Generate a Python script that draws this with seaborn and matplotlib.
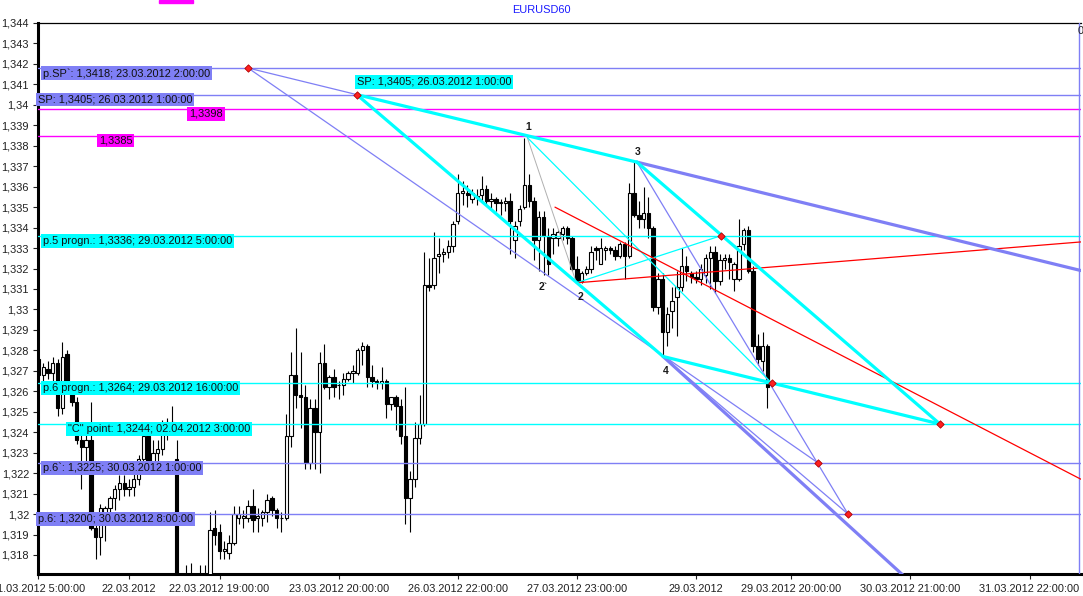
import numpy as np
import pandas as pd
import seaborn as sns
import matplotlib.pyplot as plt
from matplotlib.patches import Rectangle
from matplotlib.ticker import MultipleLocator, FixedLocator, FuncFormatter

# --- 1. Data (EURUSD H1 bars) ---
opens = [1.3276, 1.3268, 1.3271, 1.3269, 1.3274, 1.3252, 1.3278, 1.3261, 1.3255, 1.3236,
         1.3233, 1.3236, 1.3193, 1.3189, 1.3198, 1.3203, 1.3208, 1.3212, 1.3215, 1.3212,
         1.3213, 1.3217, 1.3227, 1.3238, 1.3225, 1.3230, 1.3232, 1.3241, 1.3245, 1.3227,
         1.3163, 1.3158, 1.3155, 1.3160, 1.3162, 1.3165, 1.3170, 1.3193, 1.3191, 1.3182,
         1.3181, 1.3186, 1.3198, 1.3198, 1.3198, 1.3204, 1.3198, 1.3198, 1.3201, 1.3208,
         1.3202, 1.3198, 1.3198, 1.3238, 1.3268, 1.3258, 1.3257, 1.3225, 1.3252, 1.3240,
         1.3274, 1.3262, 1.3267, 1.3263, 1.3263, 1.3266, 1.3269, 1.3269, 1.3280, 1.3282,
         1.3267, 1.3265, 1.3264, 1.3265, 1.3254, 1.3257, 1.3253, 1.3238, 1.3208, 1.3217,
         1.3237, 1.3244, 1.3312, 1.3312, 1.3326, 1.3327, 1.3328, 1.3331, 1.3343, 1.3357,
         1.3357, 1.3354, 1.3355, 1.3356, 1.3359, 1.3353, 1.3354, 1.3352, 1.3352, 1.3353,
         1.3334, 1.3343, 1.3350, 1.3361, 1.3353, 1.3334, 1.3345, 1.3336, 1.3335, 1.3335,
         1.3337, 1.3340, 1.3335, 1.3320, 1.3314, 1.3318, 1.3320, 1.3330, 1.3322, 1.3329,
         1.3330, 1.3329, 1.3326, 1.3332, 1.3326, 1.3357, 1.3346, 1.3344, 1.3347, 1.3340,
         1.3301, 1.3315, 1.3289, 1.3299, 1.3306, 1.3311, 1.3321, 1.3318, 1.3316, 1.3315,
         1.3317, 1.3325, 1.3328, 1.3314, 1.3324, 1.3325, 1.3315, 1.3315, 1.3332, 1.3339,
         1.3319, 1.3282, 1.3275, 1.3282]
highs = [1.3279, 1.3274, 1.3275, 1.3277, 1.3276, 1.3284, 1.3280, 1.3265, 1.3257, 1.3243,
         1.3240, 1.3255, 1.3197, 1.3205, 1.3204, 1.3209, 1.3214, 1.3219, 1.3219, 1.3217,
         1.3221, 1.3229, 1.3243, 1.3243, 1.3236, 1.3236, 1.3246, 1.3247, 1.3253, 1.3236,
         1.3168, 1.3175, 1.3176, 1.3166, 1.3175, 1.3175, 1.3201, 1.3202, 1.3195, 1.3187,
         1.3190, 1.3204, 1.3204, 1.3202, 1.3207, 1.3212, 1.3203, 1.3202, 1.3210, 1.3209,
         1.3203, 1.3201, 1.3249, 1.3279, 1.3291, 1.3279, 1.3263, 1.3256, 1.3256, 1.3279,
         1.3283, 1.3268, 1.3271, 1.3265, 1.3269, 1.3270, 1.3273, 1.3281, 1.3284, 1.3283,
         1.3273, 1.3266, 1.3272, 1.3266, 1.3257, 1.3258, 1.3256, 1.3262, 1.3221, 1.3245,
         1.3258, 1.3328, 1.3325, 1.3338, 1.3335, 1.3330, 1.3334, 1.3343, 1.3366, 1.3363,
         1.3361, 1.3359, 1.3359, 1.3365, 1.3361, 1.3357, 1.3355, 1.3354, 1.3355, 1.3357,
         1.3343, 1.3351, 1.3384, 1.3366, 1.3355, 1.3348, 1.3348, 1.3340, 1.3340, 1.3339,
         1.3341, 1.3341, 1.3336, 1.3326, 1.3319, 1.3321, 1.3331, 1.3331, 1.3335, 1.3331,
         1.3331, 1.3331, 1.3333, 1.3333, 1.3362, 1.3372, 1.3353, 1.3360, 1.3355, 1.3341,
         1.3318, 1.3318, 1.3301, 1.3311, 1.3319, 1.3330, 1.3326, 1.3319, 1.3319, 1.3322,
         1.3327, 1.3331, 1.3331, 1.3327, 1.3327, 1.3327, 1.3323, 1.3344, 1.3340, 1.3341,
         1.3321, 1.3288, 1.3289, 1.3283]
lows = [1.3265, 1.3265, 1.3266, 1.3265, 1.3248, 1.3249, 1.3263, 1.3253, 1.3234, 1.3212,
        1.3221, 1.3192, 1.3178, 1.3180, 1.3187, 1.3199, 1.3202, 1.3207, 1.3209, 1.3209,
        1.3209, 1.3214, 1.3225, 1.3221, 1.3222, 1.3225, 1.3229, 1.3236, 1.3240, 1.3158,
        1.3150, 1.3148, 1.3150, 1.3150, 1.3152, 1.3155, 1.3165, 1.3185, 1.3178, 1.3178,
        1.3178, 1.3185, 1.3195, 1.3193, 1.3196, 1.3191, 1.3191, 1.3194, 1.3196, 1.3199,
        1.3193, 1.3191, 1.3197, 1.3233, 1.3252, 1.3242, 1.3222, 1.3222, 1.3222, 1.3220,
        1.3261, 1.3256, 1.3257, 1.3256, 1.3258, 1.3265, 1.3264, 1.3268, 1.3273, 1.3262,
        1.3262, 1.3261, 1.3261, 1.3247, 1.3251, 1.3241, 1.3234, 1.3195, 1.3191, 1.3213,
        1.3234, 1.3243, 1.3309, 1.3310, 1.3318, 1.3323, 1.3325, 1.3328, 1.3342, 1.3351,
        1.3350, 1.3352, 1.3351, 1.3353, 1.3351, 1.3349, 1.3348, 1.3346, 1.3348, 1.3327,
        1.3325, 1.3341, 1.3349, 1.3350, 1.3324, 1.3319, 1.3317, 1.3317, 1.3327, 1.3331,
        1.3334, 1.3332, 1.3319, 1.3313, 1.3313, 1.3317, 1.3318, 1.3324, 1.3322, 1.3324,
        1.3327, 1.3324, 1.3325, 1.3315, 1.3325, 1.3345, 1.3340, 1.3340, 1.3335, 1.3299,
        1.3298, 1.3277, 1.3282, 1.3291, 1.3287, 1.3309, 1.3314, 1.3313, 1.3313, 1.3312,
        1.3313, 1.3310, 1.3308, 1.3312, 1.3320, 1.3315, 1.3309, 1.3314, 1.3329, 1.3318,
        1.3279, 1.3273, 1.3270, 1.3252]
closes = [1.3268, 1.3272, 1.3269, 1.3274, 1.3252, 1.3277, 1.3265, 1.3255, 1.3236, 1.3233,
          1.3236, 1.3193, 1.3189, 1.3203, 1.3203, 1.3208, 1.3212, 1.3215, 1.3212, 1.3213,
          1.3217, 1.3227, 1.3238, 1.3225, 1.3230, 1.3232, 1.3241, 1.3245, 1.3242, 1.3163,
          1.3158, 1.3155, 1.3160, 1.3162, 1.3165, 1.3168, 1.3192, 1.3190, 1.3182, 1.3183,
          1.3186, 1.3200, 1.3200, 1.3199, 1.3204, 1.3197, 1.3199, 1.3201, 1.3207, 1.3202,
          1.3198, 1.3198, 1.3238, 1.3268, 1.3258, 1.3257, 1.3225, 1.3252, 1.3240, 1.3274,
          1.3262, 1.3267, 1.3262, 1.3263, 1.3266, 1.3269, 1.3270, 1.3280, 1.3282, 1.3267,
          1.3265, 1.3264, 1.3265, 1.3254, 1.3257, 1.3253, 1.3238, 1.3208, 1.3217, 1.3237,
          1.3244, 1.3312, 1.3311, 1.3325, 1.3327, 1.3328, 1.3331, 1.3342, 1.3357, 1.3358,
          1.3356, 1.3357, 1.3355, 1.3359, 1.3353, 1.3354, 1.3352, 1.3352, 1.3353, 1.3343,
          1.3341, 1.3349, 1.3361, 1.3353, 1.3334, 1.3345, 1.3336, 1.3322, 1.3337, 1.3338,
          1.3340, 1.3335, 1.3320, 1.3314, 1.3318, 1.3320, 1.3328, 1.3329, 1.3330, 1.3330,
          1.3329, 1.3326, 1.3332, 1.3326, 1.3357, 1.3346, 1.3344, 1.3347, 1.3340, 1.3301,
          1.3315, 1.3289, 1.3298, 1.3304, 1.3311, 1.3321, 1.3319, 1.3316, 1.3315, 1.3320,
          1.3325, 1.3328, 1.3314, 1.3324, 1.3325, 1.3323, 1.3322, 1.3331, 1.3339, 1.3319,
          1.3282, 1.3276, 1.3282, 1.3262]

# x axis labels (bar index of each labelled hour)
tick_pos = [0, 19, 38, 63, 88, 113, 138, 158, 183, 208]
tick_labels = ["21.03.2012 5:00:00", "22.03.2012", "22.03.2012 19:00:00", "23.03.2012 20:00:00",
               "26.03.2012 22:00:00", "27.03.2012 23:00:00", "29.03.2012", "29.03.2012 20:00:00",
               "30.03.2012 21:00:00", "31.03.2012 22:00:00"]

# pattern points (bar index, price)
pt_x = {"pSP": 44.0, "SP": 66.8, "p1": 102.6, "p2": 112.9, "p3": 125.6, "p4": 131.1,
        "p5": 143.2, "p6prog": 153.9, "p6b": 163.6, "p6": 169.9, "C": 189.2,
        "blue_top": 218.8, "blue_bot": 181.5, "red_a": 108.4, "red_a_end": 218.8, "red_b_end": 218.8}
pt_y = {"pSP": 1.3418, "SP": 1.3405, "p1": 1.3384, "p2": 1.3313, "p3": 1.3372, "p4": 1.3277,
        "p5": 1.3336, "p6prog": 1.3264, "p6b": 1.3225, "p6": 1.3200, "C": 1.3244,
        "blue_top": 1.3319, "blue_bot": 1.3170, "red_a": 1.3350, "red_a_end": 1.3217, "red_b_end": 1.3333}
red_dots = ["pSP", "SP", "p5", "p6prog", "p6b", "p6", "C"]

# horizontal levels and their captions
level_price = [1.3418, 1.3405, 1.3398, 1.3385, 1.3336, 1.3264, 1.3244, 1.3225, 1.3200]
level_kind = ["blue", "blue", "mag", "mag", "cyan", "cyan", "cyan", "blue", "blue"]
level_text = ["p.SP`: 1,3418; 23.03.2012 2:00:00", "SP: 1,3405; 26.03.2012 1:00:00", "1,3398", "1,3385",
              "p.5 progn.: 1,3336; 29.03.2012 5:00:00", "p.6 progn.: 1,3264; 29.03.2012 16:00:00",
              "\"C\" point: 1,3244; 02.04.2012 3:00:00", "p.6`: 1,3225; 30.03.2012 1:00:00",
              "p.6: 1,3200; 30.03.2012 8:00:00"]
level_text_x = [0.95, -0.1, 31.6, 12.7, 0.95, 0.95, 6.2, 0.95, -0.1]

# wave numbers
wave_text = ["1", "2`", "2", "3", "4"]
wave_x = [102.7, 105.9, 113.7, 125.7, 131.6]
wave_y = [1.3389, 1.3311, 1.3306, 1.3377, 1.3270]

# --- 2. Styling ---
sns.set_style("white")
plt.rcParams["font.family"] = ["Liberation Sans", "DejaVu Sans"]
BLUE = "#7f7ff5"
CYAN = "#00ffff"
MAG = "#ff00ff"
RED = "#ff0000"
colors = {"blue": BLUE, "cyan": CYAN, "mag": MAG}
FS = 7.9

fig = plt.figure(figsize=(10.83, 5.96), dpi=100)
ax = fig.add_axes([38 / 1083, 22 / 596, 1043 / 1083, 551 / 596])

# --- 3. Candles ---
n = len(opens)
x = np.arange(n)
o = np.array(opens)
c = np.array(closes)
ax.vlines(x, lows, highs, color="black", lw=0.8, zorder=2)
body_low = np.minimum(o, c)
body_h = np.maximum(np.abs(c - o), 0.00003)
face = np.where(c >= o, "white", "black")
ax.bar(x, body_h, bottom=body_low, width=0.72, color=face, edgecolor="black",
       linewidth=0.8, zorder=3)

# --- 4. Levels, trend lines, points ---
for p, k in zip(level_price, level_kind):
    ax.axhline(p, color=colors[k], lw=1.0, zorder=4)

def seg(a, b, color, lw):
    sns.lineplot(x=[pt_x[a], pt_x[b]], y=[pt_y[a], pt_y[b]], color=color, lw=lw,
                 ax=ax, zorder=4.5)

seg("p1", "p2", "#b0b0b0", 0.7)
seg("pSP", "SP", BLUE, 0.9)
seg("pSP", "p6b", BLUE, 0.9)
seg("p3", "p6", BLUE, 0.9)
seg("p4", "p6", BLUE, 0.9)
seg("p2", "p5", CYAN, 0.9)
seg("p1", "p6prog", CYAN, 0.9)
seg("red_a", "red_a_end", RED, 0.9)
seg("p2", "red_b_end", RED, 0.9)
seg("p3", "blue_top", BLUE, 2.3)
seg("p4", "blue_bot", BLUE, 2.3)
seg("SP", "p3", CYAN, 2.3)
seg("SP", "p4", CYAN, 2.3)
seg("p3", "C", CYAN, 2.3)
seg("p4", "C", CYAN, 2.3)

sns.scatterplot(x=[pt_x[k] for k in red_dots], y=[pt_y[k] for k in red_dots], s=14,
                marker="D", color="#ff2020", edgecolor="#b00000", linewidth=0.6, ax=ax, zorder=6)

# level captions
for p, k, t, tx in zip(level_price, level_kind, level_text, level_text_x):
    ax.text(tx, p, t, fontsize=FS, color="#101010", ha="left", va="top", zorder=7,
            bbox=dict(boxstyle="square,pad=0.17", fc=colors[k], ec="none"))
ax.text(pt_x["SP"], 1.34088, "SP: 1,3405; 26.03.2012 1:00:00", fontsize=FS, color="#101010",
        ha="left", va="bottom", zorder=7,
        bbox=dict(boxstyle="square,pad=0.17", fc=CYAN, ec="none"))

for t, wx, wy in zip(wave_text, wave_x, wave_y):
    ax.text(wx, wy, t, fontsize=7.5, fontweight="bold", color="#1a1a1a",
            ha="center", va="center", zorder=7)

# right-hand time separator
ax.axvline(218.4, color=BLUE, lw=1.0, zorder=4)

# --- 5. Axes ---
ax.set_xlim(-0.1, 218.8)
ax.set_ylim(1.31707, 1.3440)
ax.xaxis.set_major_locator(FixedLocator(tick_pos))
ax.set_xticklabels(tick_labels)
ax.xaxis.set_minor_locator(MultipleLocator(6))
ax.yaxis.set_major_locator(MultipleLocator(0.001))
ax.yaxis.set_minor_locator(MultipleLocator(0.0002))
ax.yaxis.set_major_formatter(FuncFormatter(
    lambda v, _: f"{v:.3f}".rstrip("0").replace(".", ",")))
ax.tick_params(axis="both", which="major", direction="out", length=3.5, width=0.8,
               labelsize=FS, colors="#202020", pad=3)
ax.tick_params(axis="x", which="major", pad=4)
ax.tick_params(axis="both", which="minor", direction="out", length=1.8, width=0.7,
               colors="#202020")
ax.tick_params(left=True, bottom=True)
ax.set_xlabel("")
ax.set_ylabel("")

for side in ["left", "bottom"]:
    ax.spines[side].set_linewidth(2.2)
    ax.spines[side].set_color("black")
ax.spines["top"].set_linewidth(0.9)
ax.spines["top"].set_color("black")
ax.spines["right"].set_visible(False)

# title and clipped label remnants at the top
fig.text(541 / 1083, 1 - 10 / 596, "EURUSD60", color="#1a1aff", fontsize=FS,
         ha="center", va="center")
fig.text(1078 / 1083, 1 - 31 / 596, "0", color="#202020", fontsize=FS, ha="left", va="center")
fig.patches.append(Rectangle((159 / 1083, 1 - 3 / 596), 34 / 1083, 3 / 596,
                             transform=fig.transFigure, color=MAG))

fig.savefig("out.png", dpi=100)
